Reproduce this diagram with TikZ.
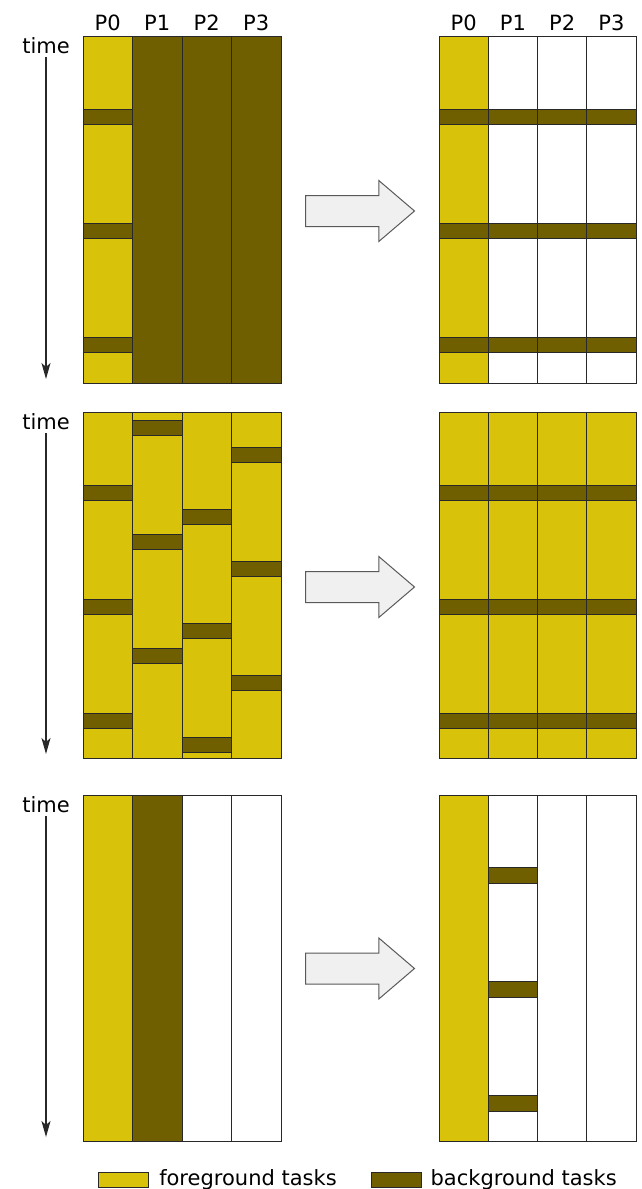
\documentclass[tikz,border=0pt]{standalone}
\usepackage{fontspec}
\setmainfont{DejaVu Sans}
\usetikzlibrary{arrows.meta,positioning,shapes.arrows}
\definecolor{fgColor}{RGB}{216,195,10}
\definecolor{bgColor}{RGB}{111,95,0}
\definecolor{edgeColor}{RGB}{40,40,40}
\definecolor{blockColor}{RGB}{240,240,240}
\newcommand{\procfont}{\fontsize{21}{25}\selectfont}

\begin{document}
\begin{tikzpicture}[
        x=1pt, y=-1pt,
        fg/.style={fill=fgColor, draw=edgeColor, line width=0.9pt},
        bg/.style={fill=bgColor, draw=edgeColor, line width=0.9pt},
        idle/.style={fill=white, draw=edgeColor, line width=0.9pt},
        plabel/.style={anchor=base, font=\procfont},
        timelbl/.style={anchor=base, font=\procfont},
        timearr/.style={-{Stealth[length=16pt, width=9pt, inset=4pt]}, line width=1.1pt, edgeColor},
        blockarr/.style={single arrow, draw=black!65, fill=blockColor, line width=1pt,
          inner xsep=0pt, inner ysep=15pt, minimum height=109pt,
          single arrow head extend=15pt, single arrow tip angle=81, anchor=tail},
        keybox/.style={draw=edgeColor, line width=0.9pt, minimum width=50pt, minimum height=15pt, inner sep=0pt},
        keytext/.style={font=\procfont, inner sep=0pt},
      ]
      \useasboundingbox (0,0) rectangle (642,1189);

      % processor labels
      \foreach \c in {0,...,3} {
        \node[plabel] (lp\c) at ({107.75+49.5*\c},30) {P\c};
        \node[plabel] (rp\c) at ({463.6+49.25*\c},30) {P\c};
      }

      % time axes
      \foreach \n/\top/\tip in {1/53/379, 2/429.5/754, 3/812/1137} {
        \node[timelbl] (time\n) at (46,\top) {time};
        \coordinate (tend\n) at (46,\tip);
        \draw[timearr] (time\n) -- (tend\n);
      }

      % panel 1: one foreground task
      \draw[fg] (83,36) rectangle (132.5,383);
      \foreach \c in {1,2,3}
        \draw[bg] ({83+49.5*\c},36) rectangle ++(49.5,347);
      \foreach \y in {109,223,337}
        \draw[bg] (83,\y) rectangle ++(49.5,15.5);

      \draw[fg] (439,36) rectangle (488.25,383);
      \foreach \c in {1,2,3}
        \draw[idle] ({439+49.25*\c},36) rectangle ++(49.25,347);
      \foreach \y in {109,223,337}
        \foreach \c in {0,...,3}
          \draw[bg] ({439+49.25*\c},\y) rectangle ++(49.25,15.5);

      % panel 2: foreground tasks everywhere
      \foreach \c in {0,...,3}
        \draw[fg] ({83+49.5*\c},412.5) rectangle ++(49.5,345.5);
      \foreach \c/\o in {0/72.5, 1/7.5, 2/96.5, 3/34.5}
        \foreach \k in {0,1,2}
          \draw[bg] ({83+49.5*\c},{412.5+\o+114*\k}) rectangle ++(49.5,15.5);

      \foreach \c in {0,...,3}
        \draw[fg] ({439+49.25*\c},412.5) rectangle ++(49.25,345.5);
      \foreach \y in {485,599,713}
        \foreach \c in {0,...,3}
          \draw[bg] ({439+49.25*\c},\y) rectangle ++(49.25,15.5);

      % panel 3: one background task
      \draw[fg] (83,795) rectangle ++(49.5,346);
      \draw[bg] (132.5,795) rectangle ++(49.5,346);
      \foreach \c in {2,3}
        \draw[idle] ({83+49.5*\c},795) rectangle ++(49.5,346);

      \draw[fg] (439,795) rectangle ++(49.25,346);
      \foreach \c in {1,2,3}
        \draw[idle] ({439+49.25*\c},795) rectangle ++(49.25,346);
      \foreach \y in {867.5,981.5,1095.5}
        \draw[bg] (488.25,\y) rectangle ++(49.25,15.5);

      % transitions
      \node[blockarr] (trans1) at (305,211) {};
      \node[blockarr] (trans2) at (305,587) {};
      \node[blockarr] (trans3) at (305,968.5) {};

      % legend
      \node[keybox, fill=fgColor] (fgkey) at (123.6,1179.5) {};
      \node[keytext, right=10pt of fgkey] (fgtext) {foreground tasks};
      \node[keybox, fill=bgColor] (bgkey) at (396,1179.5) {};
      \node[keytext, right=9pt of bgkey] (bgtext) {background tasks};
    \end{tikzpicture}
\end{document}
